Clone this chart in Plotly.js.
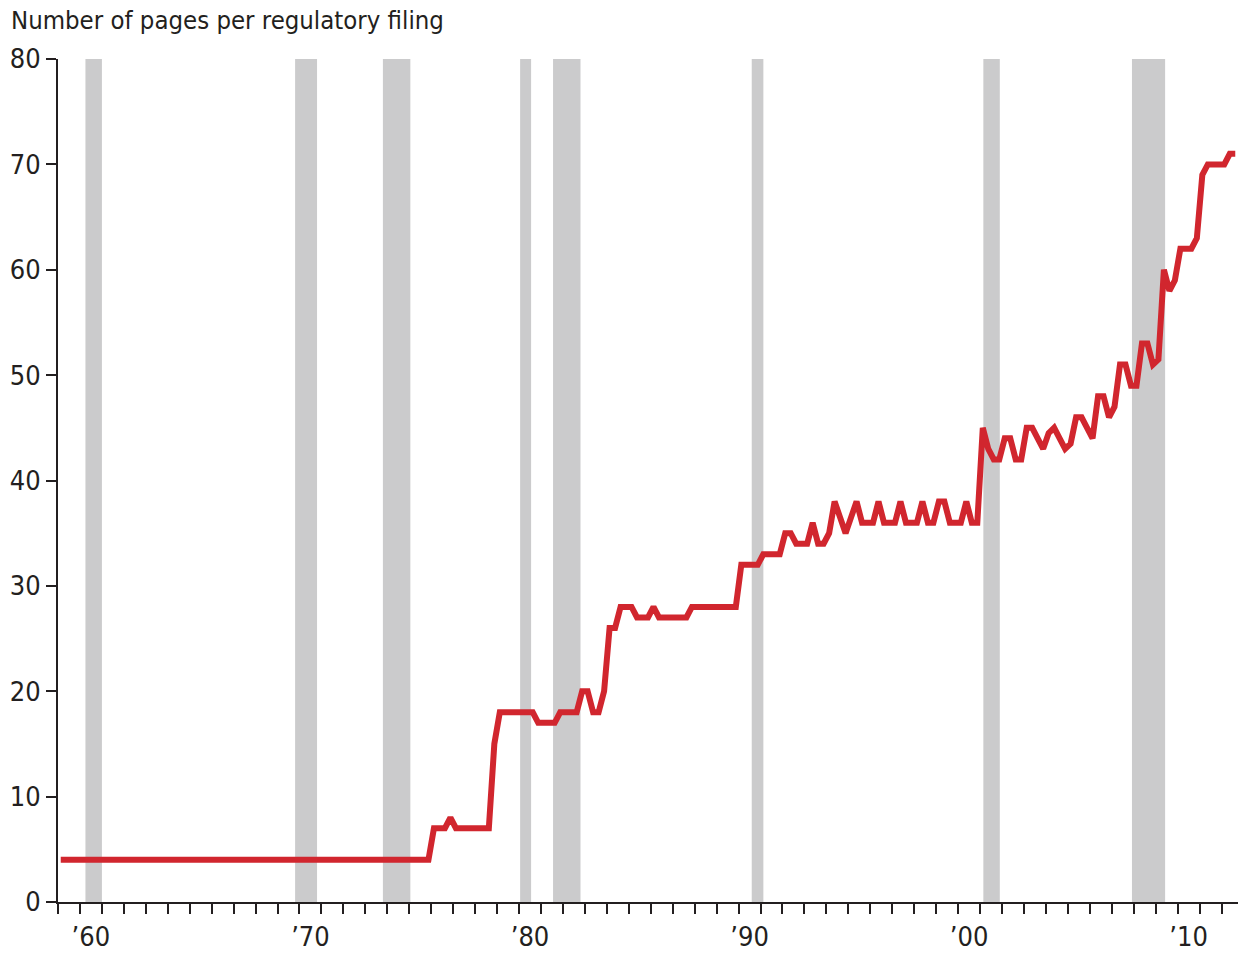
<!DOCTYPE html>
<html>
<head>
<meta charset="utf-8">
<script src="https://cdn.plot.ly/plotly-3.0.1.min.js"></script>
<style>
html, body { margin: 0; padding: 0; background: #ffffff; }
#chart { width: 1243px; height: 954px; }
</style>
</head>
<body>
<div id="chart"></div>
<script>
// Quarterly series, first value = 1959 Q1
const firstYear = 1959;
const pagesPerFiling = [
  4,4,4,4,  4,4,4,4,  4,4,4,4,  4,4,4,4,      // 1959-1962
  4,4,4,4,  4,4,4,4,  4,4,4,4,  4,4,4,4,      // 1963-1966
  4,4,4,4,  4,4,4,4,  4,4,4,4,  4,4,4,4,      // 1967-1970
  4,4,4,4,  4,4,4,4,  4,4,4,4,  4,4,4,4,      // 1971-1974
  4,4,4,4,                                    // 1975
  7,7,7,8,                                    // 1976
  7,7,7,7,                                    // 1977
  7,7,7,15,                                   // 1978
  18,18,18,18,                                // 1979
  18,18,18,17,                                // 1980
  17,17,17,18,                                // 1981
  18,18,18,20,                                // 1982
  20,18,18,20,                                // 1983
  26,26,28,28,                                // 1984
  28,27,27,27,                                // 1985
  28,27,27,27,                                // 1986
  27,27,27,28,                                // 1987
  28,28,28,28,                                // 1988
  28,28,28,28,                                // 1989
  32,32,32,32,                                // 1990
  33,33,33,33,                                // 1991
  35,35,34,34,                                // 1992
  34,36,34,34,                                // 1993
  35,38,36.5,35,                              // 1994
  36.5,38,36,36,                              // 1995
  36,38,36,36,                                // 1996
  36,38,36,36,                                // 1997
  36,38,36,36,                                // 1998
  38,38,36,36,                                // 1999
  36,38,36,36,                                // 2000
  45,43,42,42,                                // 2001
  44,44,42,42,                                // 2002
  45,45,44,43,                                // 2003
  44.5,45,44,43,                              // 2004
  43.5,46,46,45,                              // 2005
  44,48,48,46,                                // 2006
  47,51,51,49,                                // 2007
  49,53,53,51,                                // 2008
  51.5,60,58,59,                              // 2009
  62,62,62,63,                                // 2010
  69,70,70,70,                                // 2011
  70,71,71                                    // 2012
];

// Recession bars (decimal years)
const recessionStart = [1960.25, 1969.8, 1973.8, 1980.05, 1981.55, 1990.6, 2001.15, 2007.92];
const recessionEnd   = [1961.0, 1970.8, 1975.05, 1980.55, 1982.8, 1991.13, 2001.9, 2009.43];

// Axis labels
const decadeYears  = [1960, 1970, 1980, 1990, 2000, 2010];
const decadeLabels = ['\u201960', '\u201970', '\u201980', '\u201990', '\u201900', '\u201910'];
const yTickValues  = [0, 10, 20, 30, 40, 50, 60, 70, 80];
const chartTitle   = 'Number of pages per regulatory filing';

const quarterMid = pagesPerFiling.map((_, i) => firstYear + (i + 0.5) / 4);

const FONT = '"DejaVu Sans Condensed", "DejaVu Sans", sans-serif';
const INK = '#231f20';

const trace = {
  x: quarterMid,
  y: pagesPerFiling,
  type: 'scatter',
  mode: 'lines',
  line: { color: '#d1262e', width: 6, shape: 'linear', simplify: false },
  hoverinfo: 'skip',
  showlegend: false
};

const shapes = recessionStart.map((s, i) => ({
  type: 'rect', xref: 'x', yref: 'y',
  x0: s, x1: recessionEnd[i], y0: 0, y1: 80,
  fillcolor: '#cbcbcc', line: { width: 0 }, layer: 'below'
}));

const layout = {
  width: 1243, height: 954,
  margin: { l: 58, r: 5, t: 59, b: 52 },
  paper_bgcolor: '#ffffff', plot_bgcolor: '#ffffff',
  font: { family: FONT, color: INK },
  title: {
    text: chartTitle,
    font: { family: FONT, size: 25.5, color: INK },
    xref: 'container', yref: 'container',
    x: 11 / 1243, xanchor: 'left',
    y: 0.979, yanchor: 'middle'
  },
  xaxis: {
    range: [1959, 2012.75],
    showline: true, linecolor: INK, linewidth: 2,
    showgrid: false, zeroline: false,
    tickmode: 'array',
    tickvals: decadeYears.map(y => y + 0.5),
    ticktext: decadeLabels,
    ticks: '',
    ticklabelstandoff: 10,
    tickfont: { family: FONT, size: 27, color: INK },
    minor: { tick0: 1959, dtick: 1, ticks: 'outside', ticklen: 10, tickwidth: 2, tickcolor: INK, showgrid: false }
  },
  yaxis: {
    range: [0, 80],
    showline: true, linecolor: INK, linewidth: 2,
    showgrid: false, zeroline: false,
    tickmode: 'array', tickvals: yTickValues,
    ticks: 'outside', ticklen: 10, tickwidth: 2, tickcolor: INK,
    ticklabelstandoff: 0,
    tickfont: { family: FONT, size: 27, color: INK }
  },
  shapes: shapes,
  showlegend: false
};

Plotly.newPlot('chart', [trace], layout, { displayModeBar: false, staticPlot: true });
</script>
</body>
</html>
